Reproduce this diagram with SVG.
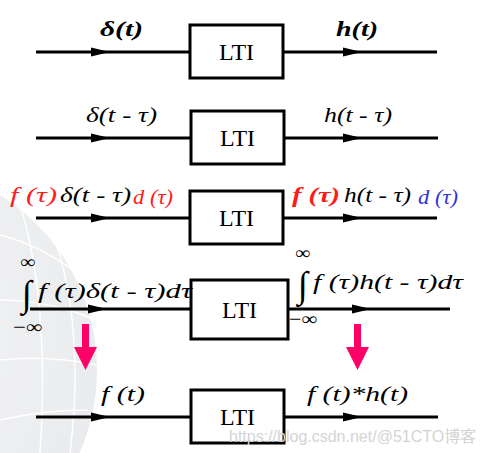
<svg xmlns="http://www.w3.org/2000/svg" xmlns:xlink="http://www.w3.org/1999/xlink" width="482" height="453" viewBox="0 0 482 453">
<style>
.ln{stroke:#000;stroke-width:2.8;fill:none}
.box{stroke:#000;stroke-width:3;fill:#fff}
.lti{font-size:24px;fill:#000;text-anchor:middle}
.m{font-style:italic;font-size:22px;fill:#000}
.inf{font-style:normal;font-size:18px}
.int{font-style:normal;font-size:37px}
.mb{font-weight:bold}
.red{fill:#ff1a1a}
.blue{fill:#3333dd}
.sm{font-size:20px}
.pink{fill:#ff0066}
.wm{font-size:16px;fill:#d4d4d4}
</style>
<defs>
<path id="ah" d="M0,0 L-19,-4.5 L-19,4.5 Z" fill="#000"/>
<radialGradient id="gl" cx="0.35" cy="0.4" r="0.7">
<stop offset="0" stop-color="#f6f7f8"/>
<stop offset="1" stop-color="#e4e6e9"/>
</radialGradient>
</defs>
<rect width="482" height="453" fill="#fff"/>
<g id="globe" opacity="0.8">
<circle cx="-109" cy="370" r="206" fill="url(#gl)"/>
<g stroke="#fff" stroke-width="1.5" fill="none">
<path d="M0,235 Q40,245 80,275"/>
<path d="M0,300 Q50,300 95,320"/>
<path d="M0,360 Q50,355 97,365"/>
<path d="M0,420 Q45,410 88,410"/>
<path d="M20,205 Q50,300 40,453"/>
<path d="M55,240 Q85,330 70,453"/>
</g>
</g>
<g id="connectors">
<line class="ln" x1="36" y1="52" x2="190" y2="52"/>
<line class="ln" x1="283" y1="52" x2="437" y2="52"/>
<use xlink:href="#ah" x="110" y="52"/>
<use xlink:href="#ah" x="362" y="52"/>
<line class="ln" x1="36" y1="138" x2="191" y2="138"/>
<line class="ln" x1="284" y1="138" x2="438" y2="138"/>
<use xlink:href="#ah" x="110" y="138"/>
<use xlink:href="#ah" x="362" y="138"/>
<line class="ln" x1="36" y1="218" x2="190" y2="218"/>
<line class="ln" x1="283" y1="218" x2="437" y2="218"/>
<use xlink:href="#ah" x="110" y="218"/>
<use xlink:href="#ah" x="362" y="218"/>
<line class="ln" x1="30" y1="309" x2="191" y2="309"/>
<line class="ln" x1="288" y1="309" x2="450" y2="309"/>
<use xlink:href="#ah" x="107" y="309"/>
<use xlink:href="#ah" x="371" y="309"/>
<line class="ln" x1="36" y1="417" x2="191" y2="417"/>
<line class="ln" x1="284" y1="417" x2="438" y2="417"/>
<use xlink:href="#ah" x="110" y="417"/>
<use xlink:href="#ah" x="362" y="417"/>
<path class="pink" d="M82,324 H89 V347 H97 L85.5,370 L74,347 H82 Z"/>
<path class="pink" d="M354,324 H361 V347 H369 L357.5,370 L346,347 H354 Z"/>
</g>
<g font-family="Liberation Serif, Times New Roman, DejaVu Serif, serif">
<g id="lti1"><rect class="box" x="190" y="25" width="93" height="53"/><text class="lti" x="236.5" y="60">LTI</text></g>
<g id="lti2"><rect class="box" x="191" y="111" width="93" height="53"/><text class="lti" x="237.5" y="146">LTI</text></g>
<g id="lti3"><rect class="box" x="190" y="191" width="93" height="53"/><text class="lti" x="236.5" y="226">LTI</text></g>
<g id="lti4"><rect class="box" x="191" y="280" width="97" height="59"/><text class="lti" x="239.5" y="318">LTI</text></g>
<g id="lti5"><rect class="box" x="191" y="390" width="93" height="53"/><text class="lti" x="237.5" y="425">LTI</text></g>
<g id="labels">
<text class="m mb" x="100" y="36" textLength="43" lengthAdjust="spacingAndGlyphs">δ(t)</text>
<text class="m mb" x="336" y="36" textLength="42" lengthAdjust="spacingAndGlyphs">h(t)</text>
<text class="m" x="86" y="122" textLength="71" lengthAdjust="spacingAndGlyphs">δ(t - τ)</text>
<text class="m" x="324" y="122" textLength="68" lengthAdjust="spacingAndGlyphs">h(t - τ)</text>
<text class="m red" x="10" y="202" textLength="47" lengthAdjust="spacingAndGlyphs">f (τ)</text>
<text class="m" x="60" y="202" textLength="71" lengthAdjust="spacingAndGlyphs">δ(t - τ)</text>
<text class="m red sm" x="133" y="204" textLength="40" lengthAdjust="spacingAndGlyphs">d (τ)</text>
<text class="m red mb" x="292" y="202" textLength="48" lengthAdjust="spacingAndGlyphs">f (τ)</text>
<text class="m" x="344" y="202" textLength="67" lengthAdjust="spacingAndGlyphs">h(t - τ)</text>
<text class="m blue sm" x="418" y="204" textLength="40" lengthAdjust="spacingAndGlyphs">d (τ)</text>
<text class="m inf" x="20" y="268" textLength="15" lengthAdjust="spacingAndGlyphs">∞</text>
<text class="m int" x="22" y="306" textLength="10" lengthAdjust="spacingAndGlyphs">∫</text>
<text class="m inf" x="13" y="333" textLength="29" lengthAdjust="spacingAndGlyphs">−∞</text>
<text class="m" x="38" y="298" textLength="154" lengthAdjust="spacingAndGlyphs">f (τ)δ(t - τ)dτ</text>
<text class="m inf" x="295" y="259" textLength="15" lengthAdjust="spacingAndGlyphs">∞</text>
<text class="m int" x="298" y="297" textLength="10" lengthAdjust="spacingAndGlyphs">∫</text>
<text class="m inf" x="289" y="325" textLength="28" lengthAdjust="spacingAndGlyphs">−∞</text>
<text class="m" x="313" y="289" textLength="150" lengthAdjust="spacingAndGlyphs">f (τ)h(t - τ)dτ</text>
<text class="m" x="101" y="401" textLength="44" lengthAdjust="spacingAndGlyphs">f (t)</text>
<text class="m" x="307" y="401" textLength="101" lengthAdjust="spacingAndGlyphs">f (t)*h(t)</text>
</g>
</g>
<text class="wm" x="229" y="442" font-family="Liberation Sans, Noto Sans CJK SC, sans-serif">https://blog.csdn.net/@51CTO博客</text>
</svg>
